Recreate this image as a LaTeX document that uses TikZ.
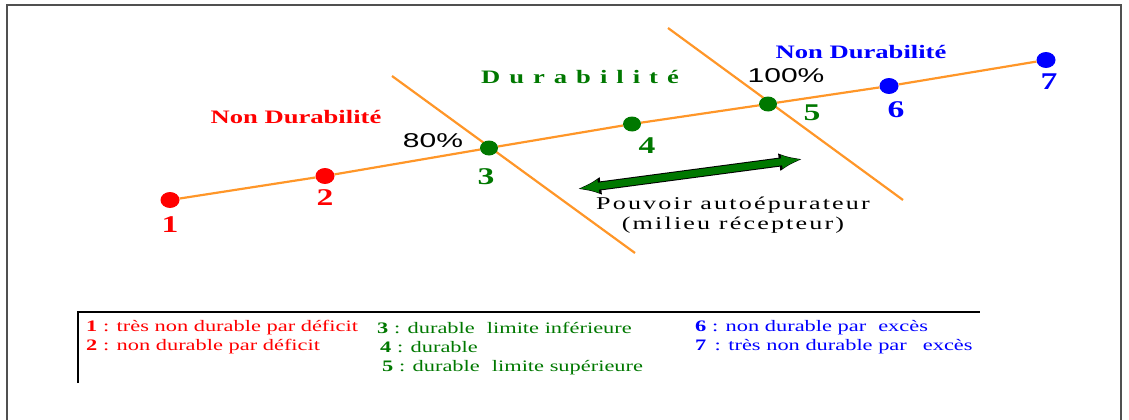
\documentclass[tikz,border=0pt]{standalone}
\usepackage{fontspec}
\setmainfont{Liberation Serif}
\newfontfamily\wideserif[FakeStretch=1.4]{Liberation Serif}
\newfontfamily\wideserifB[FakeStretch=1.45,LetterSpace=12]{Liberation Serif}
\newfontfamily\widesans[FakeStretch=1.5]{Liberation Sans}
\usetikzlibrary{arrows.meta,shapes.geometric}
\definecolor{myorange}{RGB}{255,150,40}
\definecolor{mygreen}{RGB}{0,120,0}
\definecolor{myred}{RGB}{255,0,0}
\definecolor{myblue}{RGB}{0,0,255}
\definecolor{frame}{RGB}{80,80,80}
\tikzset{
  dotr/.style={ellipse,fill=myred,inner sep=0pt,minimum width=19pt,minimum height=16pt},
  dotg/.style={ellipse,fill=mygreen,inner sep=0pt,minimum width=18pt,minimum height=15pt},
  dotb/.style={ellipse,fill=myblue,inner sep=0pt,minimum width=19pt,minimum height=16pt},
  num/.style={font=\wideserif\fontsize{24}{24}\selectfont\bfseries,inner sep=0pt},
  zone/.style={font=\wideserif\fontsize{19}{19}\selectfont\bfseries,inner sep=0pt},
  pct/.style={font=\widesans\fontsize{20}{20}\selectfont,inner sep=0pt},
  leg/.style={font=\wideserif\fontsize{16}{16}\selectfont,inner sep=0pt,anchor=west},
  oline/.style={draw=myorange,line width=2.2pt},
}
\begin{document}
\begin{tikzpicture}[x=1pt,y=-1pt]
\useasboundingbox (0,0) rectangle (1129,420);
% frame
\draw[frame,line width=2pt] (7,420) -- (7,5) -- (1121,5) -- (1121,420);
% cross lines
\coordinate (c1a) at (392,76); \coordinate (c1b) at (635,253);
\coordinate (c2a) at (668,28); \coordinate (c2b) at (903,200);
\draw[oline] (c1a) -- (c1b);
\draw[oline] (c2a) -- (c2b);
% points
\node[dotr] (p1) at (170,200) {};
\node[dotr] (p2) at (325,176) {};
\node[dotg] (p3) at (489,148) {};
\node[dotg] (p4) at (632,124) {};
\node[dotg] (p5) at (768,104) {};
\node[dotb] (p6) at (889,86) {};
\node[dotb] (p7) at (1046,60) {};
\draw[oline] (p1) -- (p2) -- (p3) -- (p4) -- (p5) -- (p6) -- (p7);
% numbers
\node[num,myred] (n1) at (170,225) {1};
\node[num,myred] (n2) at (325,198) {2};
\node[num,mygreen] (n3) at (486,177) {3};
\node[num,mygreen] (n4) at (647,146) {4};
\node[num,mygreen] (n5) at (812,113) {5};
\node[num,myblue] (n6) at (896,110) {6};
\node[num,myblue] (n7) at (1049,82) {7};
% zone labels
\node[zone,myred] (z1) at (296,117) {Non Durabilité};
\node[zone,mygreen] (z2) at (580,77) {D\hspace{9pt}u\hspace{9pt}r\hspace{9pt}a\hspace{9pt}b\hspace{9pt}i\hspace{9pt}l\hspace{9pt}i\hspace{9pt}t\hspace{9pt}é};
\node[zone,myblue] (z3) at (861,52) {Non Durabilité};
\node[pct] (pc80) at (433,141) {80\%};
\node[pct] (pc100) at (786,76) {100\%};
% double arrow
\coordinate (a1) at (577,189); \coordinate (a2) at (803,159);
\draw[black,line width=9pt,{Latex[length=24pt,width=18pt]}-{Latex[length=24pt,width=18pt]}] (a1) -- (a2);
\draw[mygreen,line width=7pt,shorten <=1.5pt,shorten >=1.5pt,{Latex[length=20pt,width=14pt]}-{Latex[length=20pt,width=14pt]}] (a1) -- (a2);
\node[font=\wideserifB\fontsize{18}{18}\selectfont,align=center,inner sep=0pt] (pv) at (733,215) {Pouvoir autoépurateur\\[2pt](milieu récepteur)};
% legend
\draw[black,line width=1.5pt] (78,383) -- (78,312) -- (980,312);
\node[leg,myred] (l1) at (86,328) {\textbf{1} : très non durable par déficit};
\node[leg,myred] (l2) at (86,347) {\textbf{2} : non durable par déficit};
\node[leg,mygreen] (l3) at (377,328) {\textbf{3} : durable\hspace{12pt}limite inférieure};
\node[leg,mygreen] (l4) at (380,347) {\textbf{4} : durable};
\node[leg,mygreen] (l5) at (382,368) {\textbf{5} : durable\hspace{12pt}limite supérieure};
\node[leg,myblue] (l6) at (695,328) {\textbf{6} : non durable par\hspace{12pt}excès};
\node[leg,myblue] (l7) at (695,347) {\textbf{7}\, : très non durable par\hspace{16pt}excès};
\end{tikzpicture}
\end{document}
